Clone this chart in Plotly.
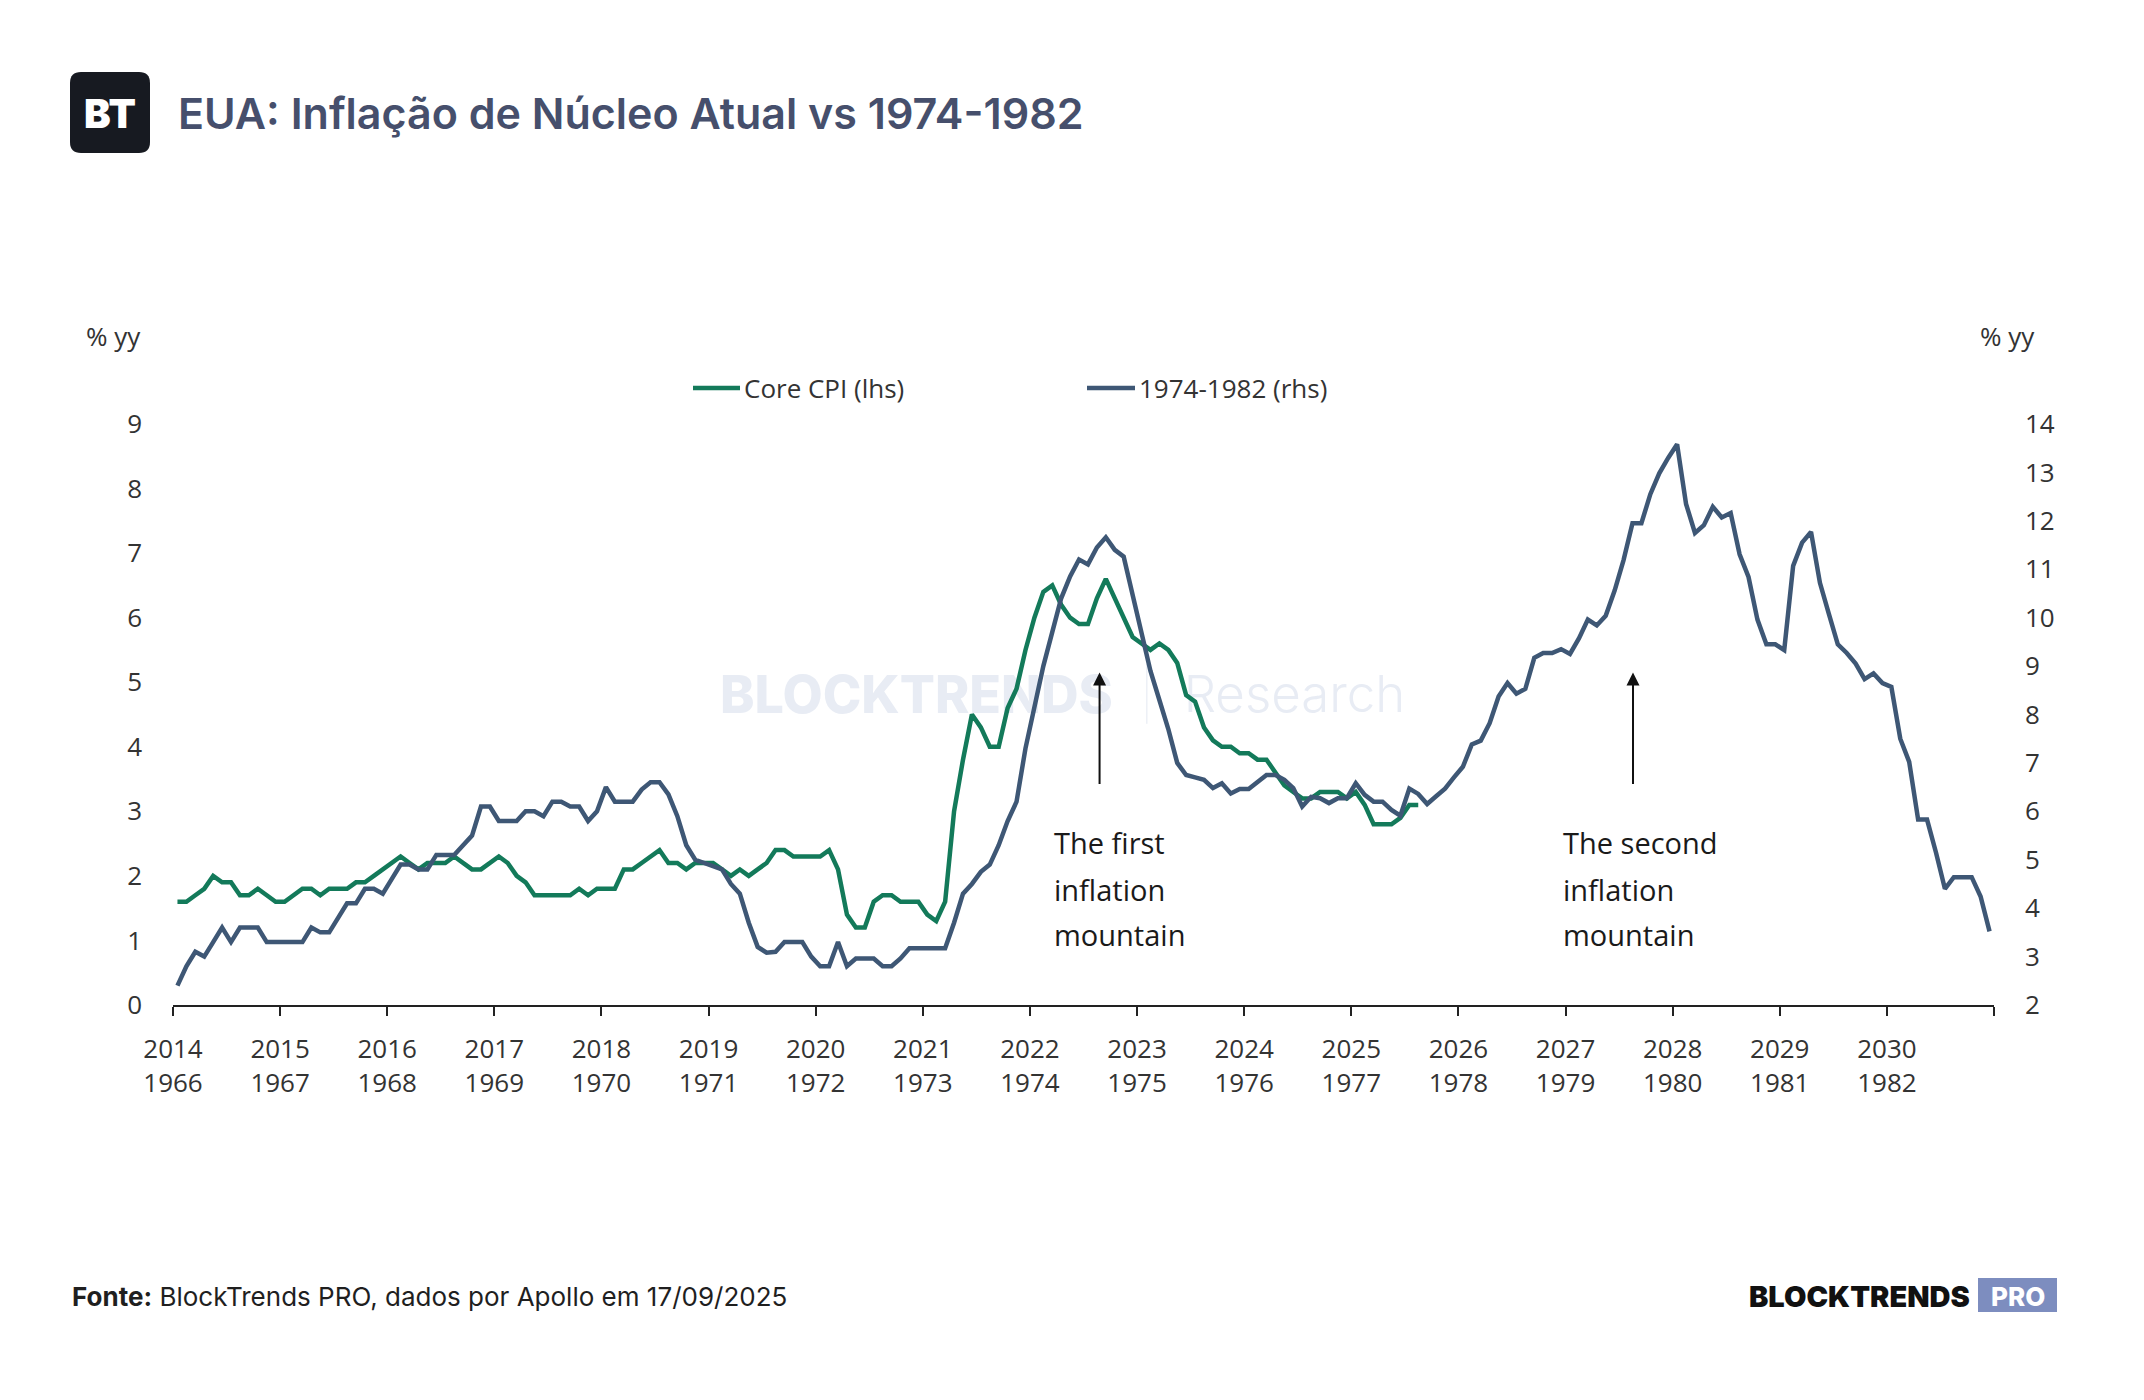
import plotly.graph_objects as go

# ---------------- data ----------------
# Core CPI, % yoy, monthly from Jan 2014 (left axis)
core_cpi = [
    1.6, 1.6, 1.7, 1.8, 2.0, 1.9, 1.9, 1.7, 1.7, 1.8, 1.7, 1.6,   # 2014
    1.6, 1.7, 1.8, 1.8, 1.7, 1.8, 1.8, 1.8, 1.9, 1.9, 2.0, 2.1,   # 2015
    2.2, 2.3, 2.2, 2.1, 2.2, 2.2, 2.2, 2.3, 2.2, 2.1, 2.1, 2.2,   # 2016
    2.3, 2.2, 2.0, 1.9, 1.7, 1.7, 1.7, 1.7, 1.7, 1.8, 1.7, 1.8,   # 2017
    1.8, 1.8, 2.1, 2.1, 2.2, 2.3, 2.4, 2.2, 2.2, 2.1, 2.2, 2.2,   # 2018
    2.2, 2.1, 2.0, 2.1, 2.0, 2.1, 2.2, 2.4, 2.4, 2.3, 2.3, 2.3,   # 2019
    2.3, 2.4, 2.1, 1.4, 1.2, 1.2, 1.6, 1.7, 1.7, 1.6, 1.6, 1.6,   # 2020
    1.4, 1.3, 1.6, 3.0, 3.8, 4.5, 4.3, 4.0, 4.0, 4.6, 4.9, 5.5,   # 2021
    6.0, 6.4, 6.5, 6.2, 6.0, 5.9, 5.9, 6.3, 6.6, 6.3, 6.0, 5.7,   # 2022
    5.6, 5.5, 5.6, 5.5, 5.3, 4.8, 4.7, 4.3, 4.1, 4.0, 4.0, 3.9,   # 2023
    3.9, 3.8, 3.8, 3.6, 3.4, 3.3, 3.2, 3.2, 3.3, 3.3, 3.3, 3.2,   # 2024
    3.3, 3.1, 2.8, 2.8, 2.8, 2.9, 3.1, 3.1,                       # 2025
]

# Core CPI 1966-1982, % yoy, monthly from Jan 1966 (right axis), aligned to 2014-2030
cpi_1966_1982 = [
    2.4, 2.8, 3.1, 3.0, 3.3, 3.6, 3.3, 3.6, 3.6, 3.6, 3.3, 3.3,          # 1966
    3.3, 3.3, 3.3, 3.6, 3.5, 3.5, 3.8, 4.1, 4.1, 4.4, 4.4, 4.3,          # 1967
    4.6, 4.9, 4.9, 4.8, 4.8, 5.1, 5.1, 5.1, 5.3, 5.5, 6.1, 6.1,          # 1968
    5.8, 5.8, 5.8, 6.0, 6.0, 5.9, 6.2, 6.2, 6.1, 6.1, 5.8, 6.0,          # 1969
    6.5, 6.2, 6.2, 6.2, 6.45, 6.6, 6.6, 6.35, 5.9, 5.3, 5.0, 4.93,       # 1970
    4.87, 4.8, 4.5, 4.3, 3.7, 3.2, 3.08, 3.1, 3.3, 3.3, 3.3, 3.0,        # 1971
    2.8, 2.8, 3.3, 2.8, 2.96, 2.96, 2.96, 2.8, 2.8, 2.96, 3.17, 3.17,    # 1972
    3.17, 3.17, 3.17, 3.7, 4.3, 4.5, 4.75, 4.9, 5.3, 5.8, 6.2, 7.3,      # 1973
    8.2, 9.0, 9.7, 10.4, 10.85, 11.2, 11.1, 11.45, 11.66, 11.4, 11.26, 10.5,  # 1974
    9.7, 8.9, 8.3, 7.7, 7.0, 6.75, 6.7, 6.65, 6.48, 6.58, 6.37, 6.46,    # 1975
    6.46, 6.61, 6.75, 6.75, 6.65, 6.48, 6.1, 6.3, 6.27, 6.17, 6.27, 6.27,  # 1976
    6.58, 6.34, 6.2, 6.2, 6.03, 5.91, 6.47, 6.36, 6.15, 6.31, 6.47, 6.7,   # 1977
    6.92, 7.38, 7.46, 7.82, 8.37, 8.65, 8.43, 8.53, 9.17, 9.27, 9.27, 9.35,  # 1978
    9.25, 9.57, 9.96, 9.84, 10.04, 10.56, 11.19, 11.95, 11.95, 12.55, 12.98, 13.3,  # 1979
    13.58, 12.35, 11.75, 11.91, 12.29, 12.07, 12.16, 11.31, 10.84, 9.96, 9.45, 9.45,  # 1980
    9.33, 11.07, 11.55, 11.77, 10.72, 10.08, 9.45, 9.27, 9.05, 8.73, 8.85, 8.65,  # 1981
    8.57, 7.5, 7.02, 5.83, 5.83, 5.15, 4.4, 4.64, 4.64, 4.64, 4.24, 3.52,  # 1982
]

start_year = 2014
years_top = list(range(2014, 2031))
years_bottom = list(range(1966, 1983))
left_ticks = list(range(0, 10))
right_ticks = list(range(2, 15))

x_core = [start_year + (i + 0.5) / 12 for i in range(len(core_cpi))]
x_hist = [start_year + (i + 0.5) / 12 for i in range(len(cpi_1966_1982))]

# ---------------- layout geometry ----------------
W, H = 2144, 1400
ML, MR, MT, MB = 173, 150, 424, 395
PW, PH = W - ML - MR, H - MT - MB


def px(x):
    return (x - ML) / PW


def py(y):
    return (H - MB - y) / PH


GREEN = "#137a5a"
BLUE = "#3e5775"
TXT = "#333333"
WM = "#e8ecf4"

fig = go.Figure()

# watermark (drawn first so it sits under the lines)
fig.add_trace(go.Scatter(
    x=[2020.94], y=[4.73], mode="text", text=["BLOCKTRENDS"],
    textfont=dict(family="Inter", size=52, color=WM, weight=800),
    hoverinfo="skip", showlegend=False))
fig.add_trace(go.Scatter(
    x=[2023.09], y=[4.73], mode="text", text=["|"],
    textfont=dict(family="Inter", size=50, color=WM, weight=100),
    hoverinfo="skip", showlegend=False))
fig.add_trace(go.Scatter(
    x=[2024.47], y=[4.73], mode="text", text=["Research"],
    textfont=dict(family="Inter", size=51, color=WM, weight=300),
    hoverinfo="skip", showlegend=False))

fig.add_trace(go.Scatter(
    x=x_core, y=core_cpi, mode="lines", name="Core CPI (lhs)",
    line=dict(color=GREEN, width=4.5), showlegend=False, yaxis="y"))
fig.add_trace(go.Scatter(
    x=x_hist, y=cpi_1966_1982, mode="lines", name="1974-1982 (rhs)",
    line=dict(color=BLUE, width=4.5), showlegend=False, yaxis="y2"))

ticktext = [f"{a}<br>{b}" for a, b in zip(years_top, years_bottom)] + [""]
tickvals = years_top + [2031]

fig.update_layout(
    width=W, height=H,
    margin=dict(l=ML, r=MR, t=MT, b=MB, autoexpand=False),
    paper_bgcolor="white", plot_bgcolor="white",
    font=dict(family="Open Sans", color=TXT),
    xaxis=dict(range=[2014, 2031], tickvals=tickvals, ticktext=ticktext,
               showgrid=False, zeroline=False, showline=True,
               linecolor="#222222", linewidth=2, ticks="outside",
               ticklen=9, tickwidth=2, tickcolor="#222222",
               tickfont=dict(family="Open Sans", size=26, color=TXT),
               ticklabelstandoff=11, tickangle=0),
    yaxis=dict(range=[0, 9], tickvals=left_ticks, showgrid=False,
               zeroline=False, showline=False, ticks="",
               tickfont=dict(family="Open Sans", size=26, color=TXT),
               ticklabelstandoff=30),
    yaxis2=dict(range=[2, 14], tickvals=right_ticks, overlaying="y",
                side="right", showgrid=False, zeroline=False,
                showline=False, ticks="",
                tickfont=dict(family="Open Sans", size=26, color=TXT),
                ticklabelstandoff=30),
)

shapes = []
annotations = []

# logo box "BT"
x0, x1 = px(70), px(150)
y0, y1 = py(153), py(72)
rx, ry = 11 / PW, 11 / PH
path = (f"M {x0+rx},{y0} L {x1-rx},{y0} Q {x1},{y0} {x1},{y0+ry} "
        f"L {x1},{y1-ry} Q {x1},{y1} {x1-rx},{y1} L {x0+rx},{y1} "
        f"Q {x0},{y1} {x0},{y1-ry} L {x0},{y0+ry} Q {x0},{y0} {x0+rx},{y0} Z")
shapes.append(dict(type="path", path=path, xref="paper", yref="paper",
                   fillcolor="#171a21", line=dict(width=0)))
annotations.append(dict(text="BT", x=px(110), y=py(113), xref="paper", yref="paper",
                        showarrow=False, xanchor="center", yanchor="middle",
                        font=dict(family="Inter", size=40, color="white", weight=900)))

# title
annotations.append(dict(text="EUA: Inflação de Núcleo Atual vs 1974-1982",
                        x=px(176), y=py(113), xref="paper", yref="paper",
                        showarrow=False, xanchor="left", yanchor="middle",
                        font=dict(family="Inter", size=43, color="#464f6c", weight=600)))

# axis unit labels
annotations.append(dict(text="% yy", x=px(113), y=py(336), xref="paper", yref="paper",
                        showarrow=False, xanchor="center", yanchor="middle",
                        font=dict(family="Open Sans", size=26, color=TXT)))
annotations.append(dict(text="% yy", x=px(2007), y=py(336), xref="paper", yref="paper",
                        showarrow=False, xanchor="center", yanchor="middle",
                        font=dict(family="Open Sans", size=26, color=TXT)))

# manual legend
for (lx0, lx1, tx, label, col) in [(693, 740, 742, "Core CPI (lhs)", GREEN),
                                    (1087, 1135, 1137, "1974-1982 (rhs)", BLUE)]:
    shapes.append(dict(type="line", xref="paper", yref="paper",
                       x0=px(lx0), x1=px(lx1), y0=py(388), y1=py(388),
                       line=dict(color=col, width=4.5)))
    annotations.append(dict(text=label, x=px(tx), y=py(388), xref="paper", yref="paper",
                            showarrow=False, xanchor="left", yanchor="middle",
                            font=dict(family="Open Sans", size=26, color=TXT)))

# arrows + text annotations
for ax_year, tx_year, lines in [(2022.65, 2022.21, ["The first", "inflation", "mountain"]),
                                (2027.63, 2026.96, ["The second", "inflation", "mountain"])]:
    annotations.append(dict(x=ax_year, y=5.15, xref="x", yref="y",
                            ax=ax_year, ay=3.4, axref="x", ayref="y",
                            showarrow=True, arrowhead=2, arrowsize=1.3,
                            arrowwidth=2, arrowcolor="#111111", text=""))
    for t, yy in zip(lines, [2.51, 1.79, 1.09]):
        annotations.append(dict(text=t, x=tx_year, y=yy, xref="x", yref="y",
                                showarrow=False, xanchor="left", yanchor="middle",
                                font=dict(family="Open Sans", size=29, color="#1a1a1a")))

# footer
annotations.append(dict(text="<b>Fonte:</b> BlockTrends PRO, dados por Apollo em 17/09/2025",
                        x=px(70), y=py(1296), xref="paper", yref="paper",
                        showarrow=False, xanchor="left", yanchor="middle",
                        font=dict(family="Inter", size=26, color="#1f1f1f")))
annotations.append(dict(text="BLOCKTRENDS", x=px(1972), y=py(1296), xref="paper", yref="paper",
                        showarrow=False, xanchor="right", yanchor="middle",
                        font=dict(family="Inter", size=29, color="#111111", weight=900)))
shapes.append(dict(type="rect", xref="paper", yref="paper",
                   x0=px(1978), x1=px(2057), y0=py(1312), y1=py(1278),
                   fillcolor="#7d8dbf", line=dict(width=0)))
annotations.append(dict(text="PRO", x=px(2017.5), y=py(1296), xref="paper", yref="paper",
                        showarrow=False, xanchor="center", yanchor="middle",
                        font=dict(family="Inter", size=26, color="white", weight=800)))

fig.update_layout(shapes=shapes, annotations=annotations)

fig.write_html("out.html")
